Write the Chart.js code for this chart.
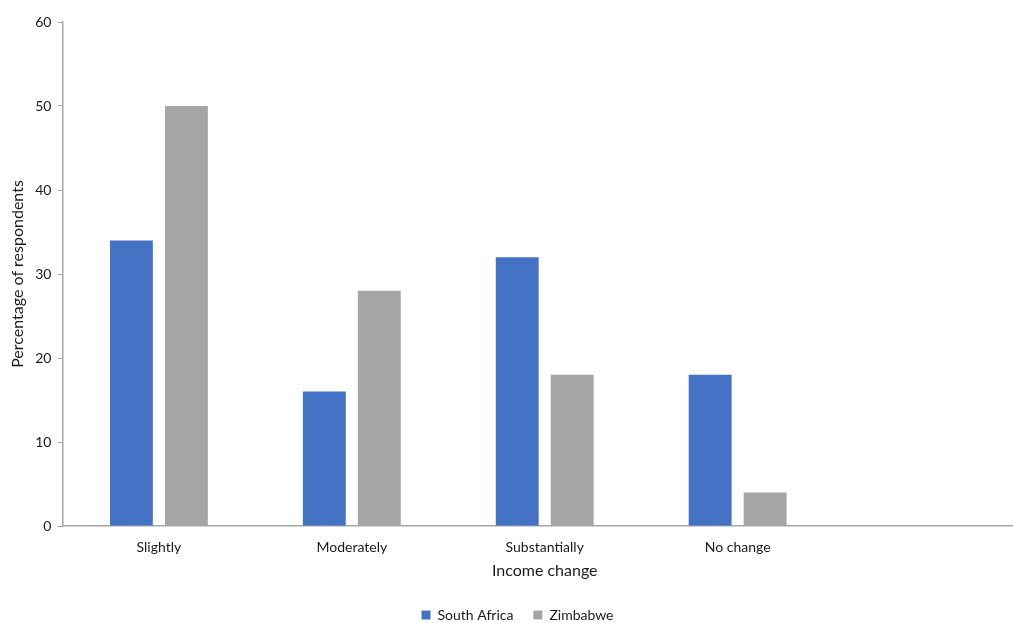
<!DOCTYPE html>
<html>
<head>
<meta charset="utf-8">
<script src="https://cdn.jsdelivr.net/npm/chart.js@4"></script>
<style>
  html, body { margin: 0; padding: 0; background: #fff; overflow: hidden; }
  #wrap { width: 1028px; height: 632px; position: relative; }
</style>
</head>
<body>
<div id="wrap"><canvas id="incomeChart"></canvas></div>
<script>
const categories = ["Slightly", "Moderately", "Substantially", "No change", ""];
const southAfrica = [34, 16, 32, 18, null];
const zimbabwe = [50, 28, 18, 4, null];
const yTicks = [0, 10, 20, 30, 40, 50, 60];

const axisColor = "#a6a6a6";
const textColor = "#1a1a1a";
const fontFamily = "Lato, 'Open Sans', sans-serif";

new Chart(document.getElementById("incomeChart"), {
  type: "bar",
  data: {
    labels: categories,
    datasets: [
      { label: "South Africa", data: southAfrica, backgroundColor: "#4472c4" },
      { label: "Zimbabwe", data: zimbabwe, backgroundColor: "#a5a5a5" },
    ],
  },
  options: {
    responsive: true,
    maintainAspectRatio: false,
    animation: false,
    datasets: { bar: { categoryPercentage: 0.57, barPercentage: 0.78 } },
    layout: { padding: { top: 22, right: 1, left: 8, bottom: 0 } },
    plugins: {
      legend: {
        position: "bottom",
        labels: {
          boxWidth: 9,
          boxHeight: 9,
          padding: 20,
          color: textColor,
          font: { family: fontFamily, size: 14 },
        },
      },
      tooltip: { enabled: false },
    },
    scales: {
      x: {
        grid: { display: false },
        border: { display: true, color: axisColor, width: 1.5 },
        ticks: { color: textColor, padding: 5, font: { family: fontFamily, size: 14 } },
        title: {
          display: true,
          text: "Income change",
          color: textColor,
          padding: { top: 0, bottom: 8 },
          font: { family: fontFamily, size: 16 },
        },
      },
      y: {
        min: 0,
        max: 60,
        afterBuildTicks: (axis) => { axis.ticks = yTicks.map((v) => ({ value: v })); },
        grid: { drawOnChartArea: false, drawTicks: true, tickLength: 5, color: axisColor },
        border: { display: true, color: axisColor, width: 1.5 },
        ticks: { color: textColor, padding: 6, font: { family: fontFamily, size: 14 } },
        title: {
          display: true,
          text: "Percentage of respondents",
          color: textColor,
          padding: { top: 0, bottom: 2 },
          font: { family: fontFamily, size: 16 },
        },
      },
    },
  },
});
</script>
</body>
</html>
